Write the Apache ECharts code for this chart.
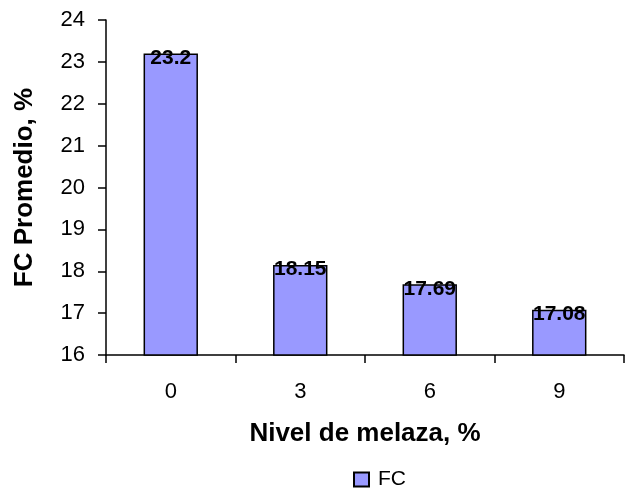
<!DOCTYPE html>
<html>
<head>
<meta charset="utf-8">
<script src="https://cdn.jsdelivr.net/npm/echarts@6/dist/echarts.min.js"></script>
<style>
  html, body { margin: 0; padding: 0; background: #fff; }
  #chart { width: 634px; height: 496px; }
</style>
</head>
<body>
<div id="chart"></div>
<script>
// niveles de melaza (categorias) y FC promedio
const categories = ['0', '3', '6', '9']
const fcValues = [23.2, 18.15, 17.69, 17.08]
const seriesName = 'FC'

const font = 'Liberation Sans, Arial, sans-serif'
const chart = echarts.init(document.getElementById('chart'))

const option = {
  animation: false,
  textStyle: { fontFamily: font, color: '#000' },
  grid: {
    left: 106,
    right: 10,
    top: 20,
    bottom: 141
  },
  legend: {
    bottom: 1,
    left: 348,
    data: [seriesName],
    icon: 'rect',
    itemWidth: 15,
    itemHeight: 14,
    textStyle: { fontFamily: font, fontSize: 21, color: '#000', padding: [0, 0, 0, 4] }
  },
  xAxis: {
    type: 'category',
    data: categories,
    name: 'Nivel de melaza, %',
    nameLocation: 'middle',
    nameGap: 66,
    nameTextStyle: { fontFamily: font, fontSize: 26, fontWeight: 'bold', color: '#000' },
    axisLine: { lineStyle: { color: '#000', width: 1.5 } },
    axisTick: { show: true, length: 8, alignWithLabel: false, lineStyle: { color: '#000', width: 1.5 } },
    axisLabel: { fontFamily: font, fontSize: 22, color: '#000', margin: 26 }
  },
  yAxis: {
    type: 'value',
    min: 16,
    max: 24,
    interval: 1,
    name: 'FC Promedio, %',
    nameLocation: 'middle',
    nameGap: 68,
    nameTextStyle: { fontFamily: font, fontSize: 26, fontWeight: 'bold', color: '#000' },
    axisLine: { show: true, lineStyle: { color: '#000', width: 1.5 } },
    axisTick: { show: true, length: 8, lineStyle: { color: '#000', width: 1.5 } },
    axisLabel: { fontFamily: font, fontSize: 22, color: '#000', margin: 21 },
    splitLine: { show: false }
  },
  series: [
    {
      name: seriesName,
      type: 'bar',
      data: fcValues,
      barWidth: '42%',
      itemStyle: { color: '#9999FF', borderColor: '#000', borderWidth: 1.5 },
      label: {
        show: true,
        position: 'insideTop',
        distance: -6,
        fontFamily: font,
        fontSize: 21,
        fontWeight: 'bold',
        color: '#000'
      }
    }
  ]
}

chart.setOption(option)
</script>
</body>
</html>
